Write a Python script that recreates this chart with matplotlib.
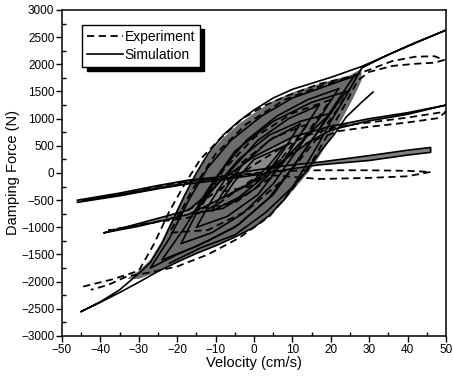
import numpy as np
import matplotlib.pyplot as plt
from matplotlib.ticker import MultipleLocator

plt.rcParams['font.family'] = ['Liberation Sans', 'DejaVu Sans']

########################## traced data (velocity cm/s, force N) ##########################
# simulation loops (solid)
sim_big_v = [-45, -40, -35, -30, -25, -20, -15, -10, -5, 0, 4, 8, 11, 14, 17, 20, 24, 28, 35, 42, 50,
             40, 28, 24, 20, 15, 10, 5, 0, -4, -8, -12, -15, -18, -21, -24, -27, -30, -35, -40, -45]
sim_big_f = [-2550, -2380, -2200, -2010, -1810, -1640, -1480, -1340, -1180, -1000, -780, -480, -150,
             200, 560, 950, 1420, 1930, 2180, 2400, 2630,
             2330, 1960, 1860, 1760, 1650, 1540, 1380, 1160, 950, 700, 350, 0, -400, -850, -1300,
             -1650, -1850, -2150, -2370, -2550]

# branch that ends at ~31 cm/s
sim_31_v = [-22, -14, -5, 3, 10, 14, 17, 21, 24, 28, 31]
sim_31_f = [-1660, -1380, -1140, -730, -260, 60, 370, 720, 1030, 1300, 1490]

sim_mid_v = [-39, -30, -17, -10, 0, 8, 15, 20, 30, 40, 50,
             40, 30, 20, 10, 0, -8, -14, -17, -30, -39]
sim_mid_f = [-1100, -980, -760, -520, -150, 250, 600, 790, 960, 1080, 1250,
             1110, 1000, 860, 660, 300, -100, -500, -680, -930, -1100]

sim_small_v = [-46, -35, -25, -17, -8, 0, 10, 17, 30, 40, 46,
               46, 40, 30, 17, 10, 0, -10, -17, -25, -35, -46]
sim_small_f = [-540, -420, -290, -200, -120, -40, 80, 150, 230, 330, 380,
               470, 420, 320, 200, 150, 50, -80, -130, -230, -370, -500]

sim_in1_v = [26, 18, 10, 2, -6, -12, -17, -22, -27, -20, -12, -4, 4, 10, 16, 21, 26]
sim_in1_f = [1780, 1580, 1380, 1050, 600, 100, -500, -1200, -1750, -1500, -1250, -950, -450, 100, 700, 1250, 1780]
sim_in2_v = [22, 14, 6, -2, -9, -14, -19, -11, -3, 5, 11, 17, 22]
sim_in2_f = [1550, 1350, 1050, 600, 0, -600, -1300, -1100, -750, -200, 400, 1000, 1550]
sim_in3_v = [17, 9, 1, -6, -11, -15, -7, 1, 7, 12, 17]
sim_in3_f = [1250, 1000, 600, 50, -500, -1000, -800, -400, 150, 700, 1250]
sim_in4_v = [12, 4, -3, -8, -11, -4, 3, 8, 12]
sim_in4_f = [900, 600, 150, -350, -700, -450, -50, 450, 900]
sim_in5_v = [8, 0, -5, -8, -1, 4, 8]
sim_in5_f = [500, 250, -150, -450, -200, 150, 500]
sim_in6_v = [20, 12, 4, -4, -10, -16, -8, 0, 8, 14, 20]
sim_in6_f = [1100, 950, 700, 250, -250, -750, -650, -300, 250, 700, 1100]
sim_in7_v = [24, 15, 5, -5, -12, -18, -24, -15, -5, 5, 12, 18, 24]
sim_in7_f = [1500, 1300, 950, 400, -300, -1000, -1600, -1350, -1000, -400, 300, 900, 1500]

# experiment loops (dashed)
exp_big_v = [-44.5, -37, -30, -26, -22, -18, -14, -9, -3, 3, 9, 17, 25, 30, 36, 42, 47, 49.5,
             47, 42, 36, 30, 27, 24, 20, 15, 10, 4, -4, -12, -20, -27, -33, -38, -42.5]
exp_big_f = [-2090, -1960, -1800, -1300, -700, -200, 250, 620, 1000, 1250, 1430, 1640, 1770, 1900,
             2060, 2140, 2150, 2080, 2030, 2010, 1970, 1860, 1700, 1300, 800, 200, -300, -800,
             -1200, -1500, -1720, -1830, -1900, -2060, -2150]

exp_mid_v = [-38, -30, -22, -15, -8, 0, 8, 15, 22, 30, 40, 50,
             48, 40, 30, 22, 14, 6, -2, -10, -17, -25, -33, -38]
exp_mid_f = [-1060, -960, -850, -600, -250, 150, 500, 720, 860, 930, 1020, 1130,
             1010, 930, 850, 770, 560, 200, -200, -600, -820, -900, -990, -1060]

exp_small_v = [-45, -35, -25, -17, -8, 0, 8, 17, 30, 40, 46,
               40, 30, 17, 8, 0, -8, -17, -25, -35, -45]
exp_small_f = [-520, -400, -280, -180, -80, 0, 40, 50, 50, 40, 20,
               -60, -90, -110, -60, -20, -100, -150, -260, -400, -510]

exp_in1_v = [27, 18, 8, -2, -10, -16, -22, -12, -2, 8, 16, 22, 27]
exp_in1_f = [1800, 1620, 1350, 900, 350, -300, -1100, -1050, -700, -100, 600, 1200, 1800]
exp_in2_v = [20, 10, 0, -8, -14, -5, 4, 12, 20]
exp_in2_f = [1350, 1100, 650, 50, -650, -550, -100, 550, 1350]
exp_in3_v = [14, 5, -3, -9, -1, 7, 14]
exp_in3_f = [900, 650, 200, -350, -250, 250, 900]

# dense region outline
mass_v = [-33, -30, -27, -24, -21, -18, -15, -12, -8, -4, 0, 5, 10, 15, 20, 25, 28,
          28, 26, 23, 20, 17, 14, 11, 8, 4, 0, -5, -10, -15, -20, -25, -30, -33]
mass_f = [-1950, -1800, -1600, -1250, -800, -380, 0, 330, 650, 900, 1100, 1330, 1480, 1600, 1700,
          1800, 1920, 1700, 1400, 1000, 650, 300, 0, -250, -500, -780, -1000, -1180, -1340, -1480,
          -1640, -1810, -1950, -1950]

x_ticks = np.arange(-50, 51, 10)
y_ticks = np.arange(-3000, 3001, 500)

########################## figure ##########################
fig = plt.figure(figsize=(4.53, 3.78), dpi=100)
ax = fig.add_axes([62/453, 1-336/378, (446-62)/453, (336-10)/378])

ax.fill(mass_v, mass_f, color='#6c6c6c', lw=0, zorder=1)
ax.fill(sim_small_v, sim_small_f, color='#808080', lw=0, zorder=1)
ax.fill(sim_mid_v, sim_mid_f, color='#8a8a8a', lw=0, zorder=1)

dash = dict(color='k', lw=1.3, ls=(0, (4, 2.5)), zorder=3)
solid = dict(color='k', lw=1.2, ls='-', zorder=2)

exp_loops = [(exp_big_v, exp_big_f), (exp_mid_v, exp_mid_f), (exp_small_v, exp_small_f),
             (exp_in1_v, exp_in1_f), (exp_in2_v, exp_in2_f), (exp_in3_v, exp_in3_f)]
sim_loops = [(sim_big_v, sim_big_f), (sim_31_v, sim_31_f), (sim_mid_v, sim_mid_f),
             (sim_small_v, sim_small_f), (sim_in1_v, sim_in1_f), (sim_in2_v, sim_in2_f),
             (sim_in3_v, sim_in3_f), (sim_in4_v, sim_in4_f), (sim_in5_v, sim_in5_f),
             (sim_in6_v, sim_in6_f), (sim_in7_v, sim_in7_f)]
for v, f in exp_loops:
    ax.plot(v, f, **dash)
for v, f in sim_loops:
    ax.plot(v, f, **solid)

ax.plot([], [], label='Experiment', **dash)
ax.plot([], [], label='Simulation', **solid)

ax.set_xlim(-50, 50)
ax.set_ylim(-3000, 3000)
ax.set_xticks(x_ticks)
ax.set_yticks(y_ticks)
ax.xaxis.set_minor_locator(MultipleLocator(5))
ax.yaxis.set_minor_locator(MultipleLocator(250))
ax.tick_params(which='major', direction='out', length=4, width=1, labelsize=8.5, pad=1.5)
ax.tick_params(which='minor', direction='in', length=3, width=1)
for s in ax.spines.values():
    s.set_linewidth(1.1)
ax.set_xlabel('Velocity (cm/s)', fontsize=10.5, labelpad=0)
ax.set_ylabel('Damping Force (N)', fontsize=10.5, labelpad=1)

leg = ax.legend(loc='upper left', bbox_to_anchor=(0.035, 0.975), fontsize=10,
                handlelength=2.6, handletextpad=0.1, borderpad=0.35, labelspacing=0.3,
                fancybox=False, edgecolor='k', framealpha=1,
                shadow={'ox': 3, 'oy': -3, 'facecolor': 'k', 'edgecolor': 'k', 'alpha': 1})
leg.get_frame().set_linewidth(1.0)

fig.savefig('out.png', dpi=100)
